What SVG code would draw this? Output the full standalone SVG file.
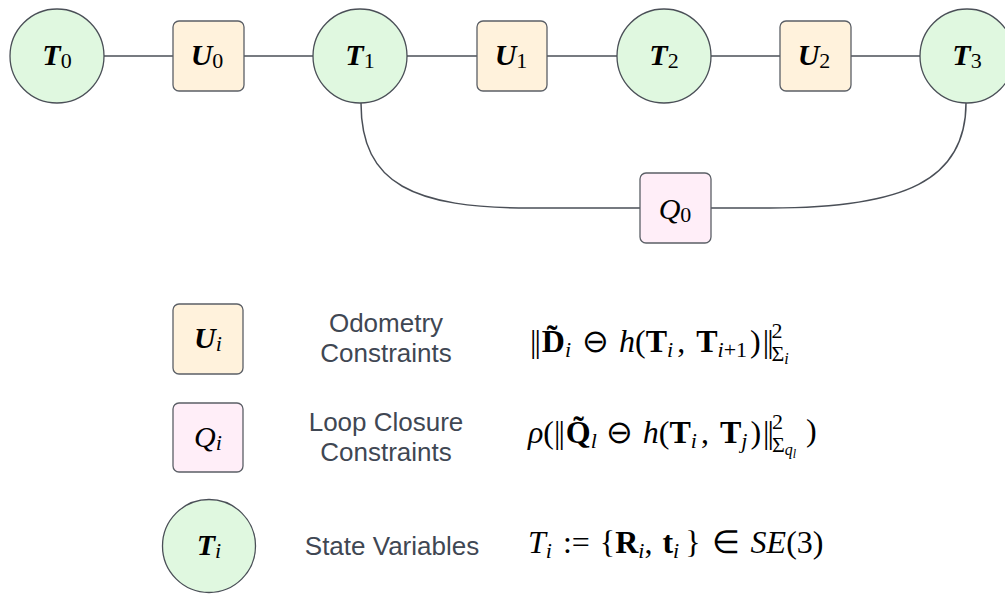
<svg xmlns="http://www.w3.org/2000/svg" width="1005" height="594" viewBox="0 0 1005 594">
<style>
.st{fill:#e0f8e0;stroke:#4a4f57;stroke-width:1.3}
.od{fill:#fff2dc;stroke:#5b5f66;stroke-width:1.3}
.lc{fill:#ffeef8;stroke:#5b5f66;stroke-width:1.3}
.cn{fill:none;stroke:#4a4f57;stroke-width:1.5}
.m{font-family:"Liberation Serif",serif;font-size:30px;fill:#000}
.bi{font-weight:bold;font-style:italic}
.it{font-style:italic}
.b{font-weight:bold}
.s{font-size:22px}
.f{font-family:"Liberation Serif",serif;font-size:32px;fill:#000}
.bar{letter-spacing:-2px}
.lg{font-family:"Liberation Sans",Arial,sans-serif;font-size:26px;fill:#3f4753;text-anchor:middle}
</style>
<g id="connectors">
<line class="cn" x1="104" y1="56" x2="173" y2="56"/>
<line class="cn" x1="244" y1="56" x2="313" y2="56"/>
<line class="cn" x1="407" y1="56" x2="477" y2="56"/>
<line class="cn" x1="547" y1="56" x2="617" y2="56"/>
<line class="cn" x1="711" y1="56" x2="780" y2="56"/>
<line class="cn" x1="851" y1="56" x2="920" y2="56"/>
<path class="cn" d="M361,103 C361,185 415,208 530,208 L640,208"/>
<path class="cn" d="M711,208 L770,208 C905,208 966,180 966,103"/>
</g>
<g id="T0"><circle class="st" cx="57" cy="56" r="47"/><text class="m" x="57" y="65" text-anchor="middle"><tspan class="bi">T</tspan><tspan class="s" dy="3">0</tspan></text></g>
<g id="U0"><rect class="od" x="173" y="21" width="71" height="70" rx="6"/><text class="m" x="207" y="65" text-anchor="middle"><tspan class="bi">U</tspan><tspan class="s" dy="3">0</tspan></text></g>
<g id="T1"><circle class="st" cx="360" cy="56" r="47"/><text class="m" x="360" y="65" text-anchor="middle"><tspan class="bi">T</tspan><tspan class="s" dy="3">1</tspan></text></g>
<g id="U1"><rect class="od" x="477" y="21" width="70" height="70" rx="6"/><text class="m" x="511" y="65" text-anchor="middle"><tspan class="bi">U</tspan><tspan class="s" dy="3">1</tspan></text></g>
<g id="T2"><circle class="st" cx="664" cy="56" r="47"/><text class="m" x="664" y="65" text-anchor="middle"><tspan class="bi">T</tspan><tspan class="s" dy="3">2</tspan></text></g>
<g id="U2"><rect class="od" x="780" y="21" width="71" height="70" rx="6"/><text class="m" x="814" y="65" text-anchor="middle"><tspan class="bi">U</tspan><tspan class="s" dy="3">2</tspan></text></g>
<g id="T3"><circle class="st" cx="967" cy="56" r="47"/><text class="m" x="967" y="65" text-anchor="middle"><tspan class="bi">T</tspan><tspan class="s" dy="3">3</tspan></text></g>
<g id="Q0"><rect class="lc" x="640" y="173" width="71" height="70" rx="6"/><text class="m" x="675" y="219" text-anchor="middle"><tspan class="it">Q</tspan><tspan class="s" dy="3">0</tspan></text></g>

<g id="legend-U"><rect class="od" x="173" y="304" width="70" height="70" rx="6"/><text class="m" x="208" y="348" text-anchor="middle"><tspan class="bi">U</tspan><tspan class="s it" dy="3">i</tspan></text></g>
<g id="legend-Q"><rect class="lc" x="173" y="403" width="70" height="69" rx="6"/><text class="m" x="208" y="447" text-anchor="middle"><tspan class="it">Q</tspan><tspan class="s it" dy="3">i</tspan></text></g>
<g id="legend-T"><circle class="st" cx="209" cy="546" r="46.5"/><text class="m" x="209" y="555" text-anchor="middle"><tspan class="bi">T</tspan><tspan class="s it" dy="3">i</tspan></text></g>

<g id="legend-text">
<text class="lg" x="386" y="332">Odometry</text>
<text class="lg" x="386" y="362">Constraints</text>
<text class="lg" x="386" y="431">Loop Closure</text>
<text class="lg" x="386" y="461">Constraints</text>
<text class="lg" x="392" y="555">State Variables</text>
</g>

<g id="formulas">
<text class="f" x="530" y="352"><tspan class="bar">||</tspan><tspan class="b" dx="3">D̃</tspan><tspan class="it" font-size="22" dy="5">i</tspan><tspan dy="-5" dx="11">⊖</tspan><tspan class="it" dx="10">h</tspan>(<tspan class="b">T</tspan><tspan class="it" font-size="22" dy="5">i</tspan><tspan dy="-5" dx="4">,</tspan><tspan class="b" dx="11">T</tspan><tspan font-size="22" dy="5"><tspan class="it">i</tspan>+1</tspan><tspan dy="-5" dx="3">)</tspan><tspan class="bar" dx="2">||</tspan><tspan font-size="22" dy="-14">2</tspan><tspan font-size="22" dx="-11" dy="23">Σ</tspan><tspan class="it" font-size="16" dy="3">i</tspan></text>
<text class="f" x="528" y="443"><tspan class="it">ρ</tspan>(<tspan class="bar">||</tspan><tspan class="b" dx="3">Q̃</tspan><tspan class="it" font-size="22" dy="5">l</tspan><tspan dy="-5" dx="9">⊖</tspan><tspan class="it" dx="10">h</tspan>(<tspan class="b">T</tspan><tspan class="it" font-size="22" dy="5">i</tspan><tspan dy="-5" dx="4">,</tspan><tspan class="b" dx="11">T</tspan><tspan class="it" font-size="22" dy="5">j</tspan><tspan dy="-5" dx="3">)</tspan><tspan class="bar" dx="2">||</tspan><tspan font-size="22" dy="-14">2</tspan><tspan font-size="22" dx="-11" dy="23">Σ</tspan><tspan class="it" font-size="16" dy="3">q</tspan><tspan class="it" font-size="12" dy="3">l</tspan><tspan dy="-17" dx="10">)</tspan></text>
<text class="f" x="528" y="553" font-size="34"><tspan class="it">T</tspan><tspan class="it" font-size="22" dy="5">i</tspan><tspan dy="-5" dx="11">:=</tspan><tspan dx="10">{</tspan><tspan class="b">R</tspan><tspan class="it" font-size="22" dy="5">i</tspan><tspan dy="-5">,</tspan><tspan class="b" dx="10">t</tspan><tspan class="it" font-size="22" dy="5">i</tspan><tspan dy="-5" dx="6">}</tspan><tspan dx="11">∈</tspan><tspan class="it" dx="11">SE</tspan>(3)</text>
</g>
</svg>
